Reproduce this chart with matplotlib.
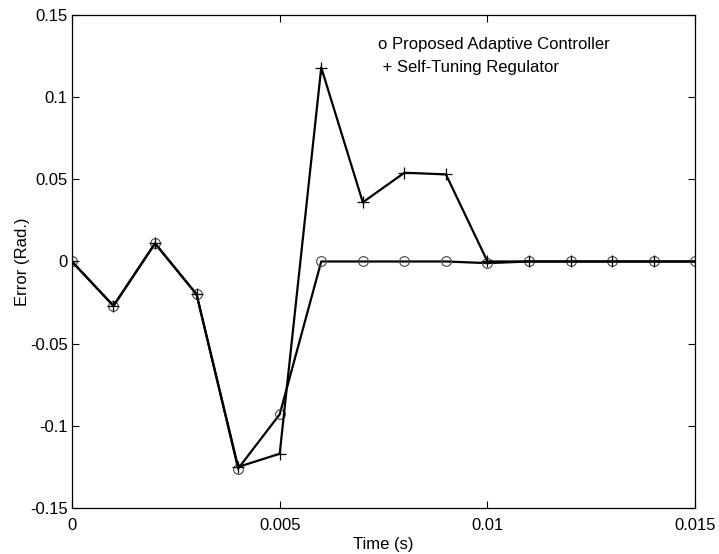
import numpy as np
import matplotlib
matplotlib.use('Agg')
import matplotlib.pyplot as plt

plt.rcParams['font.family'] = ['Liberation Sans', 'DejaVu Sans']
plt.rcParams['axes.unicode_minus'] = False

t = [0, 0.001, 0.002, 0.003, 0.004, 0.005, 0.006, 0.007,
     0.008, 0.009, 0.010, 0.011, 0.012, 0.013, 0.014, 0.015]
# proposed adaptive controller
e_pac = [0, -0.027, 0.011, -0.020, -0.126, -0.093, 0, 0,
         0, 0, -0.001, 0, 0, 0, 0, 0]
# self-tuning regulator
e_str = [0, -0.027, 0.011, -0.020, -0.125, -0.117, 0.118, 0.036,
         0.054, 0.053, 0, 0, 0, 0, 0, 0]

xticks = [0, 0.005, 0.01, 0.015]
xticklabels = ['0', '0.005', '0.01', '0.015']
yticks = [-0.15, -0.1, -0.05, 0, 0.05, 0.1, 0.15]
yticklabels = ['-0.15', '-0.1', '-0.05', '0', '0.05', '0.1', '0.15']

fig = plt.figure(figsize=(7.19, 5.54), dpi=100)
ax = fig.add_axes([0.100, 0.083, 0.867, 0.890])

ax.plot(t, e_pac, 'k-', lw=1.6, marker='o', ms=7, mfc='none', mec='#444444', mew=0.8)
ax.plot(t, e_str, 'k-', lw=1.6, marker='+', ms=9, mec='black', mew=0.9)

ax.set_xlim(0, 0.015)
ax.set_ylim(-0.15, 0.15)
ax.set_xticks(xticks)
ax.set_xticklabels(xticklabels)
ax.set_yticks(yticks)
ax.set_yticklabels(yticklabels)
ax.tick_params(direction='in', top=True, right=True, length=5, labelsize=12, width=0.8)
ax.tick_params(axis='x', pad=7)
ax.tick_params(axis='y', pad=3)
for s in ax.spines.values():
    s.set_linewidth(0.9)

ax.set_xlabel('Time (s)', fontsize=12, labelpad=3)
ax.set_ylabel('Error (Rad.)', fontsize=12)
ax.yaxis.set_label_coords(-0.068, 0.5)

ax.text(0.491, 0.941, 'o Proposed Adaptive Controller', transform=ax.transAxes,
        fontsize=12, va='center', ha='left')
ax.text(0.491, 0.894, ' + Self-Tuning Regulator', transform=ax.transAxes,
        fontsize=12, va='center', ha='left')

fig.savefig('out.png', dpi=100)
